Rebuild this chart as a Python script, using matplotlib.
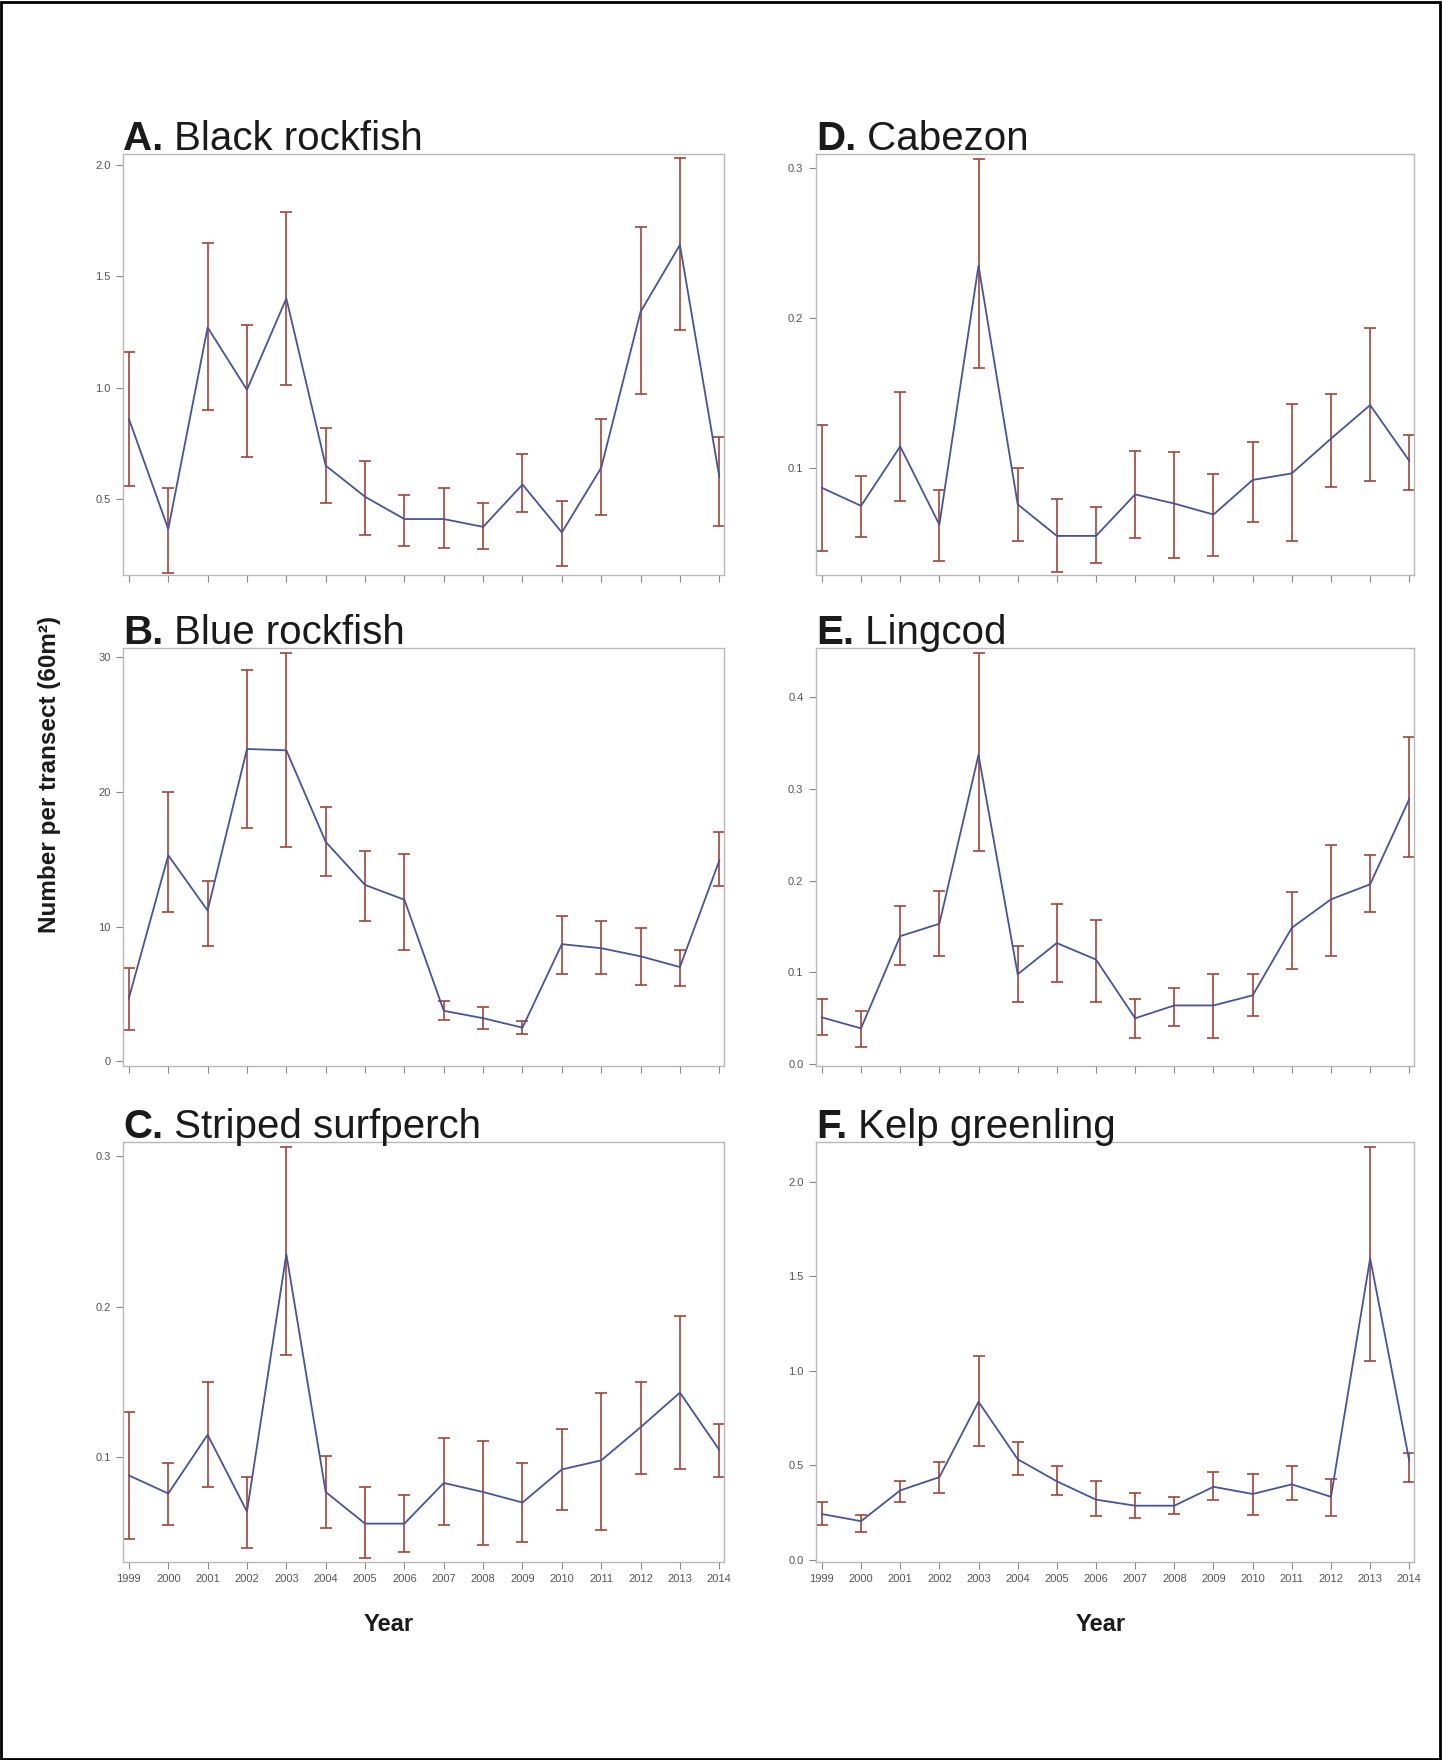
import numpy as np
import matplotlib
matplotlib.use("Agg")
import matplotlib.pyplot as plt
from matplotlib.patches import Rectangle
from matplotlib.ticker import FormatStrFormatter

plt.rcParams['font.family'] = ['Liberation Sans', 'DejaVu Sans']

years = list(range(1999, 2015))

# A. Black rockfish
a_mean = [0.86, 0.365, 1.27, 0.99, 1.40, 0.65, 0.51, 0.41, 0.41, 0.375, 0.565, 0.35, 0.64, 1.34, 1.64, 0.60]
a_lo = [0.56, 0.17, 0.90, 0.69, 1.01, 0.48, 0.34, 0.29, 0.28, 0.275, 0.44, 0.20, 0.43, 0.97, 1.26, 0.38]
a_hi = [1.16, 0.55, 1.65, 1.28, 1.79, 0.82, 0.67, 0.52, 0.55, 0.48, 0.70, 0.49, 0.86, 1.72, 2.03, 0.78]

# B. Blue rockfish
b_mean = [4.7, 15.3, 11.2, 23.2, 23.1, 16.3, 13.1, 12.0, 3.75, 3.2, 2.5, 8.7, 8.4, 7.8, 7.0, 14.9]
b_lo = [2.3, 11.1, 8.6, 17.3, 15.9, 13.8, 10.4, 8.3, 3.1, 2.4, 2.0, 6.5, 6.5, 5.7, 5.6, 13.0]
b_hi = [6.9, 20.0, 13.4, 29.1, 30.3, 18.9, 15.6, 15.4, 4.5, 4.0, 3.0, 10.8, 10.4, 9.9, 8.3, 17.0]

# C. Striped surfperch
c_mean = [0.088, 0.076, 0.115, 0.064, 0.235, 0.077, 0.056, 0.056, 0.083, 0.077, 0.070, 0.092, 0.098, 0.120, 0.143, 0.105]
c_lo = [0.0457, 0.055, 0.080, 0.040, 0.168, 0.053, 0.033, 0.037, 0.055, 0.042, 0.044, 0.065, 0.052, 0.089, 0.092, 0.087]
c_hi = [0.130, 0.096, 0.150, 0.087, 0.306, 0.101, 0.080, 0.075, 0.113, 0.111, 0.096, 0.119, 0.143, 0.150, 0.194, 0.122]

# D. Cabezon
d_mean = [0.087, 0.075, 0.1145, 0.0625, 0.2347, 0.076, 0.055, 0.055, 0.0826, 0.0765, 0.0692, 0.0922, 0.0966, 0.1197, 0.142, 0.1049]
d_lo = [0.045, 0.054, 0.0785, 0.038, 0.167, 0.0513, 0.031, 0.037, 0.0535, 0.0406, 0.0419, 0.0642, 0.0513, 0.0877, 0.0915, 0.0855]
d_hi = [0.129, 0.095, 0.151, 0.0855, 0.3055, 0.100, 0.0795, 0.074, 0.1116, 0.111, 0.0962, 0.1174, 0.1425, 0.1496, 0.193, 0.1223]

# E. Lingcod
e_mean = [0.051, 0.039, 0.1395, 0.153, 0.337, 0.098, 0.132, 0.114, 0.050, 0.064, 0.064, 0.075, 0.1486, 0.1796, 0.196, 0.289]
e_lo = [0.0313, 0.019, 0.1086, 0.1177, 0.232, 0.0678, 0.0896, 0.0678, 0.029, 0.042, 0.029, 0.052, 0.104, 0.1177, 0.166, 0.226]
e_hi = [0.0714, 0.058, 0.172, 0.189, 0.448, 0.129, 0.174, 0.1566, 0.0714, 0.083, 0.0987, 0.0987, 0.1876, 0.2393, 0.228, 0.357]

# F. Kelp greenling
f_mean = [0.241, 0.203, 0.366, 0.436, 0.835, 0.531, 0.414, 0.317, 0.285, 0.285, 0.385, 0.347, 0.398, 0.332, 1.594, 0.522]
f_lo = [0.184, 0.146, 0.304, 0.351, 0.603, 0.446, 0.342, 0.231, 0.222, 0.241, 0.313, 0.237, 0.313, 0.231, 1.053, 0.408]
f_hi = [0.304, 0.237, 0.417, 0.518, 1.076, 0.622, 0.493, 0.414, 0.351, 0.332, 0.461, 0.455, 0.493, 0.427, 2.182, 0.565]

panels = [
    ("A.", "Black rockfish", a_mean, a_lo, a_hi, (0.159, 2.048), [0.5, 1.0, 1.5, 2.0], '%.1f'),
    ("B.", "Blue rockfish", b_mean, b_lo, b_hi, (-0.35, 30.7), [0, 10, 20, 30], '%d'),
    ("C.", "Striped surfperch", c_mean, c_lo, c_hi, (0.0305, 0.3095), [0.1, 0.2, 0.3], '%.1f'),
    ("D.", "Cabezon", d_mean, d_lo, d_hi, (0.029, 0.309), [0.1, 0.2, 0.3], '%.1f'),
    ("E.", "Lingcod", e_mean, e_lo, e_hi, (-0.002, 0.4535), [0.0, 0.1, 0.2, 0.3, 0.4], '%.1f'),
    ("F.", "Kelp greenling", f_mean, f_lo, f_hi, (-0.013, 2.21), [0.0, 0.5, 1.0, 1.5, 2.0], '%.1f'),
]

W, H = 1442, 1760
fig = plt.figure(figsize=(W / 100, H / 100), dpi=100)

# axes boxes in pixels: left, width / top, bottom
cols = [(123, 601), (816, 598)]
rows = [(154, 575), (648, 1066), (1142, 1562)]

line_col = '#465597'
err_col = '#a04638'
spine_col = '#b8b8b8'

for i, (lab, name, m, lo, hi, ylim, yt, fmt) in enumerate(panels):
    c, r = divmod(i, 3)
    left, width = cols[c]
    top, bot = rows[r]
    ax = fig.add_axes([left / W, 1 - bot / H, width / W, (bot - top) / H])
    m = np.array(m)
    yerr = [m - np.array(lo), np.array(hi) - m]
    ax.plot(years, m, color=line_col, lw=1.3, zorder=3)
    ax.errorbar(years, m, yerr=yerr, fmt='none', ecolor=err_col, elinewidth=1.2,
                capsize=4, capthick=1.2, zorder=2)
    ax.set_xlim(1998.85, 2014.12)
    ax.set_ylim(*ylim)
    ax.set_yticks(yt)
    ax.yaxis.set_major_formatter(FormatStrFormatter(fmt))
    ax.set_xticks(years)
    if r == 2:
        ax.set_xticklabels([str(y) for y in years])
    else:
        ax.set_xticklabels([])
    for s in ax.spines.values():
        s.set_color(spine_col)
        s.set_linewidth(1.0)
    ax.tick_params(axis='both', colors='#888888', labelcolor='#555555', labelsize=8,
                   length=5, width=0.8, direction='out', pad=4)
    t1 = ax.text(0, 1 + 4 / (bot - top), lab, transform=ax.transAxes, fontsize=29,
                 fontweight='bold', color='#1a1a1a', ha='left', va='baseline')
    ax.annotate(" " + name, xy=(1, 0), xycoords=t1, fontsize=29, color='#1a1a1a',
                ha='left', va='bottom')

fig.text(50 / W, 1 - 774 / H, "Number per transect (60m\u00b2)", rotation=90,
         fontsize=17.5, fontweight='bold', ha='center', va='center', color='#1a1a1a')
fig.text(389 / W, 1 - 1624 / H, "Year", fontsize=17, fontweight='bold',
         ha='center', va='center', color='#1a1a1a')
fig.text(1101 / W, 1 - 1624 / H, "Year", fontsize=17, fontweight='bold',
         ha='center', va='center', color='#1a1a1a')

fig.patches.append(Rectangle((1 / W, 1 / H), 1 - 3 / W, 1 - 3 / H, transform=fig.transFigure,
                             fill=False, edgecolor='black', lw=2))

fig.savefig("out.png", dpi=100)
